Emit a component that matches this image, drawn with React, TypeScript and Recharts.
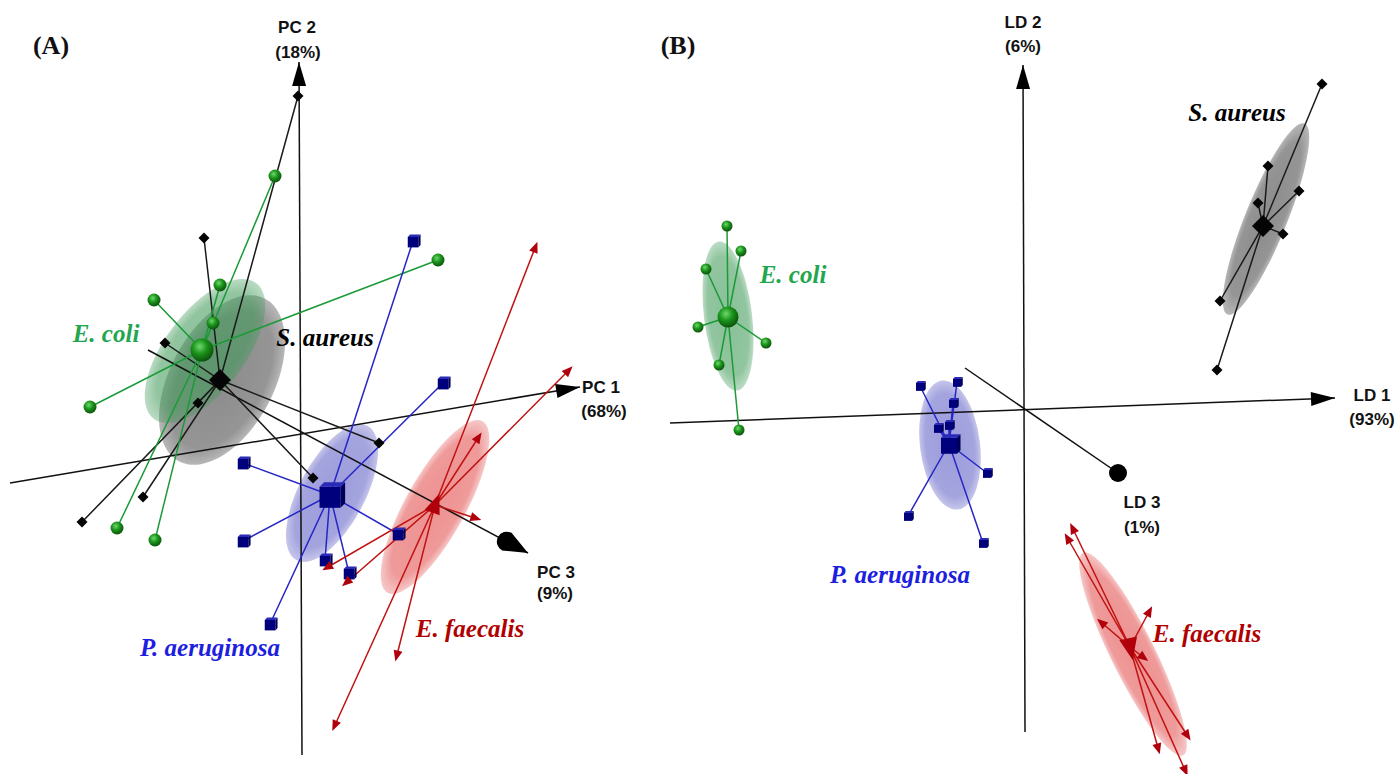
import React from 'react';
import { Scatter, ScatterChart, XAxis, YAxis } from 'recharts';

type Pt = { x: number; y: number };
type Ell = { x: number; y: number; a: number; b: number; angle: number };

const UNIT = 10; // px per score unit on both axes (keeps the projection isotropic)
const HEIGHT = 774;

// ---------- (A) PCA scores ----------
const pcaEcoliCentroid: Pt = { x: -10.0, y: 8.2 };
const pcaEcoli: Pt[] = [
  { x: -2.7, y: 25.6 }, { x: -14.8, y: 13.2 }, { x: -8.2, y: 14.7 }, { x: -8.9, y: 10.9 },
  { x: 13.6, y: 17.2 }, { x: -21.2, y: 2.5 }, { x: -18.5, y: -9.6 }, { x: -14.7, y: -10.8 },
];
const pcaSaureusCentroid: Pt = { x: -8.2, y: 5.2 };
const pcaSaureus: Pt[] = [
  { x: -0.4, y: 33.6 }, { x: -13.7, y: 8.9 }, { x: -9.8, y: 19.4 }, { x: -10.4, y: 2.9 },
  { x: 1.1, y: -4.6 }, { x: -15.9, y: -6.5 }, { x: -22.0, y: -9.0 }, { x: 7.7, y: -1.1 },
];
const pcaPaerCentroid: Pt = { x: 2.8, y: -6.3 };
const pcaPaer: Pt[] = [
  { x: 11.1, y: 19.1 }, { x: 14.1, y: 4.9 }, { x: -5.9, y: -3.1 }, { x: -5.9, y: -10.9 },
  { x: 9.6, y: -10.2 }, { x: 2.3, y: -12.8 }, { x: 4.7, y: -14.1 }, { x: -3.2, y: -19.2 },
];
const pcaEfaeCentroid: Pt = { x: 13.3, y: -7.3 };
const pcaEfae: Pt[] = [
  { x: 23.3, y: 18.4 }, { x: 26.6, y: 6.1 }, { x: 17.6, y: -0.6 }, { x: 17.3, y: -8.6 },
  { x: 2.6, y: -13.5 }, { x: 4.5, y: -15.0 }, { x: 9.5, y: -22.3 }, { x: 3.3, y: -29.3 },
];
const pcaEcoliEll: Ell = { x: -9.7, y: 8.1, a: 8.5, b: 4.0, angle: -53 };
const pcaSaureusEll: Ell = { x: -8.0, y: 5.2, a: 9.2, b: 5.2, angle: -62 };
const pcaPaerEll: Ell = { x: 3.0, y: -6.1, a: 7.6, b: 3.3, angle: -62 };
const pcaEfaeEll: Ell = { x: 13.3, y: -7.5, a: 9.8, b: 3.0, angle: -61 };

const pcaAxis1 = [{ x: -29.2, y: -5.1 }, { x: 27.8, y: 4.5 }];
const pcaAxis2 = [{ x: 0.0, y: -32.3 }, { x: -0.3, y: 37.0 }];
const pcaAxis3 = [{ x: -15.4, y: 8.2 }, { x: 22.6, y: -12.1 }];

// ---------- (B) LDA scores ----------
const ldaEcoliCentroid: Pt = { x: -29.6, y: 9.2 };
const ldaEcoli: Pt[] = [
  { x: -29.7, y: 18.3 }, { x: -28.3, y: 15.8 }, { x: -31.8, y: 14.0 }, { x: -32.6, y: 8.2 },
  { x: -25.8, y: 6.6 }, { x: -30.5, y: 4.4 }, { x: -28.5, y: -2.1 },
];
const ldaSaureusCentroid: Pt = { x: 23.9, y: 18.3 };
const ldaSaureus: Pt[] = [
  { x: 29.8, y: 32.5 }, { x: 24.4, y: 24.3 }, { x: 27.5, y: 21.8 }, { x: 23.4, y: 20.6 },
  { x: 25.9, y: 17.5 }, { x: 19.6, y: 10.8 }, { x: 19.3, y: 3.9 },
];
const ldaPaerCentroid: Pt = { x: -7.5, y: -3.5 };
const ldaPaer: Pt[] = [
  { x: -10.4, y: 2.3 }, { x: -6.7, y: 2.7 }, { x: -7.1, y: 0.6 }, { x: -8.6, y: -1.9 },
  { x: -7.5, y: -1.6 }, { x: -3.7, y: -6.4 }, { x: -11.6, y: -10.7 }, { x: -4.1, y: -13.4 },
];
const ldaEfaeCentroid: Pt = { x: 10.6, y: -23.8 };
const ldaEfae: Pt[] = [
  { x: 4.9, y: -12.0 }, { x: 4.4, y: -13.0 }, { x: 12.5, y: -20.3 }, { x: 7.8, y: -21.4 },
  { x: 11.9, y: -24.8 }, { x: 16.3, y: -32.6 }, { x: 13.4, y: -33.9 }, { x: 16.1, y: -36.1 },
];
const ldaEcoliEll: Ell = { x: -29.6, y: 9.3, a: 7.5, b: 2.4, angle: 83 };
const ldaSaureusEll: Ell = { x: 24.2, y: 19.0, a: 10.3, b: 2.1, angle: -68 };
const ldaPaerEll: Ell = { x: -7.4, y: -3.6, a: 6.5, b: 3.0, angle: 83 };
const ldaEfaeEll: Ell = { x: 10.9, y: -24.5, a: 11.3, b: 2.2, angle: 63.7 };

const ldaAxis1 = [{ x: -35.4, y: -1.4 }, { x: 31.1, y: 1.1 }];
const ldaAxis2 = [{ x: 0.1, y: -32.3 }, { x: -0.1, y: 34.4 }];
const ldaAxis3 = [{ x: -5.9, y: 4.1 }, { x: 9.4, y: -6.4 }];

// ---------- shapes ----------
const none = () => <g />;

const sphere = (r: number) => (p: any) => <circle cx={p.cx} cy={p.cy} r={r} fill="url(#sphG)" />;

const diamond = (s: number) => (p: any) => (
  <path
    d={`M${p.cx} ${p.cy - s}L${p.cx + s} ${p.cy}L${p.cx} ${p.cy + s}L${p.cx - s} ${p.cy}Z`}
    fill="#050505"
  />
);

const cube = (s: number) => (p: any) => {
  const { cx, cy } = p;
  const h = s / 2;
  const d = s * 0.22;
  const top = cy - h + d / 2;
  return (
    <g>
      <rect x={cx - h} y={top} width={s} height={s} fill="#00007c" />
      <path d={`M${cx - h} ${top}L${cx - h + d} ${top - d}L${cx + h + d} ${top - d}L${cx + h} ${top}Z`} fill="#2a2ab8" />
      <path d={`M${cx + h} ${top}L${cx + h + d} ${top - d}L${cx + h + d} ${top + s - d}L${cx + h} ${top + s}Z`} fill="#00005a" />
    </g>
  );
};

const triangle = (len: number, w: number, fixed?: number) => (p: any) => {
  const a = fixed ?? p.payload.ang;
  const ux = Math.cos(a);
  const uy = Math.sin(a);
  const tx = p.cx + ux * len * 0.6;
  const ty = p.cy + uy * len * 0.6;
  const bx = p.cx - ux * len * 0.4;
  const by = p.cy - uy * len * 0.4;
  return (
    <path
      d={`M${tx} ${ty}L${bx - uy * w / 2} ${by + ux * w / 2}L${bx + uy * w / 2} ${by - ux * w / 2}Z`}
      fill="#b0000c"
    />
  );
};

const ellipseShape = (grad: string) => (p: any) => {
  const e = p.payload as Ell;
  return (
    <ellipse
      cx={p.cx}
      cy={p.cy}
      rx={e.a * UNIT}
      ry={e.b * UNIT}
      transform={`rotate(${e.angle} ${p.cx} ${p.cy})`}
      fill={`url(#${grad})`}
    />
  );
};

// arrow heads: tip at point, pointing along payload.ang
const arrowHead = (kind: 'tri' | 'cone' | 'blob') => (p: any) => {
  const a = p.payload.ang;
  const ux = Math.cos(a);
  const uy = Math.sin(a);
  const { cx, cy } = p;
  if (kind === 'blob') return <circle cx={cx} cy={cy} r={9} fill="#000" />;
  if (kind === 'tri') {
    const L = 24;
    const w = 7;
    const bx = cx - ux * L;
    const by = cy - uy * L;
    return <path d={`M${cx} ${cy}L${bx - uy * w} ${by + ux * w}L${bx + uy * w} ${by - ux * w}Z`} fill="#000" />;
  }
  const L = 24;
  const w = 10;
  const bx = cx - ux * L;
  const by = cy - uy * L;
  return (
    <path
      d={`M${cx} ${cy}L${bx - uy * w} ${by + ux * w}A${w} ${w} 0 0 1 ${bx + uy * w} ${by - ux * w}Z`}
      fill="#000"
    />
  );
};

const STYLE = {
  ecoli: { spoke: '#1c9a38', ell: 'ellG', label: '#22a64e' },
  saureus: { spoke: '#1a1a1a', ell: 'ellK', label: '#000' },
  paer: { spoke: '#2626c6', ell: 'ellB', label: '#1e1ee0' },
  efae: { spoke: '#c11212', ell: 'ellR', label: '#b00000' },
};

type Group = {
  key: string;
  centroid: Pt;
  points: Pt[];
  ellipse: Ell;
  style: { spoke: string; ell: string };
  marker: (p: any) => React.ReactElement;
  centroidMarker: (p: any) => React.ReactElement;
};

const withAngle = (c: Pt, pts: Pt[]) =>
  pts.map((p) => ({ ...p, ang: Math.atan2(-(p.y - c.y), p.x - c.x) }));

const axisTip = (seg: Pt[]) => [
  { ...seg[1], ang: Math.atan2(-(seg[1].y - seg[0].y), seg[1].x - seg[0].x) },
];

const pcaGroups: Group[] = [
  { key: 'sa', centroid: pcaSaureusCentroid, points: pcaSaureus, ellipse: pcaSaureusEll, style: STYLE.saureus, marker: diamond(5.5), centroidMarker: diamond(11) },
  { key: 'ec', centroid: pcaEcoliCentroid, points: pcaEcoli, ellipse: pcaEcoliEll, style: STYLE.ecoli, marker: sphere(6.5), centroidMarker: sphere(11.5) },
  { key: 'pa', centroid: pcaPaerCentroid, points: pcaPaer, ellipse: pcaPaerEll, style: STYLE.paer, marker: cube(10.5), centroidMarker: cube(21) },
  { key: 'ef', centroid: pcaEfaeCentroid, points: pcaEfae, ellipse: pcaEfaeEll, style: STYLE.efae, marker: triangle(11, 9), centroidMarker: triangle(20, 16, -Math.PI / 2.6) },
];

const ldaGroups: Group[] = [
  { key: 'sa', centroid: ldaSaureusCentroid, points: ldaSaureus, ellipse: ldaSaureusEll, style: STYLE.saureus, marker: diamond(5.5), centroidMarker: diamond(11) },
  { key: 'ec', centroid: ldaEcoliCentroid, points: ldaEcoli, ellipse: ldaEcoliEll, style: STYLE.ecoli, marker: sphere(5.5), centroidMarker: sphere(10.5) },
  { key: 'pa', centroid: ldaPaerCentroid, points: ldaPaer, ellipse: ldaPaerEll, style: STYLE.paer, marker: cube(8), centroidMarker: cube(16) },
  { key: 'ef', centroid: ldaEfaeCentroid, points: ldaEfae, ellipse: ldaEfaeEll, style: STYLE.efae, marker: triangle(11, 9), centroidMarker: triangle(22, 18, Math.PI / 2.3) },
];

type AxisDef = { name: string; seg: Pt[]; head: 'tri' | 'cone' | 'blob' };

const pcaAxes: AxisDef[] = [
  { name: 'PC1', seg: pcaAxis1, head: 'tri' },
  { name: 'PC2', seg: pcaAxis2, head: 'tri' },
  { name: 'PC3', seg: pcaAxis3, head: 'cone' },
];
const ldaAxes: AxisDef[] = [
  { name: 'LD1', seg: ldaAxis1, head: 'tri' },
  { name: 'LD2', seg: ldaAxis2, head: 'tri' },
  { name: 'LD3', seg: ldaAxis3, head: 'blob' },
];

interface PanelProps {
  left: number;
  width: number;
  originX: number; // px from panel left
  originY: number; // px from top
  groups: Group[];
  axes: AxisDef[];
}

const Panel = ({ left, width, originX, originY, groups, axes }: PanelProps) => (
  <div style={{ position: 'absolute', left, top: 0 }}>
    <ScatterChart width={width} height={HEIGHT} margin={{ top: 0, right: 0, bottom: 0, left: 0 }}>
      <XAxis type="number" dataKey="x" domain={[-originX / UNIT, (width - originX) / UNIT]} hide allowDataOverflow />
      <YAxis type="number" dataKey="y" domain={[(originY - HEIGHT) / UNIT, originY / UNIT]} hide allowDataOverflow />
      {groups.map((g) => (
        <Scatter key={`ell-${g.key}`} data={[g.ellipse]} shape={ellipseShape(g.style.ell)} isAnimationActive={false} />
      ))}
      {axes.map((a) => (
        <Scatter
          key={`ax-${a.name}`}
          data={a.seg}
          line={{ stroke: '#111', strokeWidth: 1.5, fill: 'none' }}
          shape={none}
          isAnimationActive={false}
        />
      ))}
      {groups.map((g) => (
        <Scatter
          key={`sp-${g.key}`}
          data={g.points.flatMap((p) => [g.centroid, p])}
          line={{ stroke: g.style.spoke, strokeWidth: 1.5, fill: 'none' }}
          shape={none}
          isAnimationActive={false}
        />
      ))}
      {groups.map((g) => (
        <Scatter key={`pt-${g.key}`} data={withAngle(g.centroid, g.points)} shape={g.marker} isAnimationActive={false} />
      ))}
      {groups.map((g) => (
        <Scatter key={`c-${g.key}`} data={[g.centroid]} shape={g.centroidMarker} isAnimationActive={false} />
      ))}
      {axes.map((a) => (
        <Scatter key={`hd-${a.name}`} data={axisTip(a.seg)} shape={arrowHead(a.head)} isAnimationActive={false} />
      ))}
    </ScatterChart>
  </div>
);

const sans: React.CSSProperties = { fontFamily: '"Liberation Sans", Arial, sans-serif', fontWeight: 700, fontSize: 17, color: '#111' };
const species: React.CSSProperties = { fontFamily: '"Liberation Serif", "Times New Roman", serif', fontWeight: 700, fontStyle: 'italic', fontSize: 25 };
const letter: React.CSSProperties = { fontFamily: '"Liberation Serif", "Times New Roman", serif', fontWeight: 700, fontSize: 26, color: '#111' };

const Label = ({ x, y, style, children }: { x: number; y: number; style: React.CSSProperties; children: React.ReactNode }) => (
  <div
    style={{
      position: 'absolute',
      left: x,
      top: y,
      transform: 'translate(-50%, -50%)',
      whiteSpace: 'nowrap',
      lineHeight: 1,
      ...style,
    }}
  >
    {children}
  </div>
);

const ellStops = (color: string, o1: number, o2: number) => (
  <>
    <stop offset="0" stopColor={color} stopOpacity={o1} />
    <stop offset="0.8" stopColor={color} stopOpacity={o1 * 0.92} />
    <stop offset="1" stopColor={color} stopOpacity={o2} />
  </>
);

export default function App() {
  return (
    <div style={{ position: 'absolute', left: 0, top: 0, width: 1396, height: HEIGHT, background: '#fff', overflow: 'hidden' }}>
      <svg width={0} height={0} style={{ position: 'absolute' }}>
        <defs>
          <radialGradient id="sphG" cx="0.4" cy="0.35" r="0.7">
            <stop offset="0" stopColor="#6fd86f" />
            <stop offset="0.45" stopColor="#1b951b" />
            <stop offset="1" stopColor="#0a4a0a" />
          </radialGradient>
          <radialGradient id="ellG">{ellStops('#3f9a58', 0.62, 0.35)}</radialGradient>
          <radialGradient id="ellK">{ellStops('#5f5f5f', 0.72, 0.45)}</radialGradient>
          <radialGradient id="ellB">{ellStops('#5a5ac4', 0.6, 0.35)}</radialGradient>
          <radialGradient id="ellR">{ellStops('#e24848', 0.6, 0.3)}</radialGradient>
        </defs>
      </svg>

      <Panel left={0} width={698} originX={302} originY={432} groups={pcaGroups} axes={pcaAxes} />
      <Panel left={640} width={756} originX={384} originY={409} groups={ldaGroups} axes={ldaAxes} />

      {/* panel A text */}
      <Label x={51} y={46} style={letter}>(A)</Label>
      <Label x={297} y={27} style={sans}>PC 2</Label>
      <Label x={298} y={52} style={sans}>(18%)</Label>
      <Label x={601} y={387} style={sans}>PC 1</Label>
      <Label x={604} y={411} style={sans}>(68%)</Label>
      <Label x={556} y={572} style={sans}>PC 3</Label>
      <Label x={555} y={593} style={sans}>(9%)</Label>
      <Label x={106} y={333} style={{ ...species, color: STYLE.ecoli.label }}>E. coli</Label>
      <Label x={325} y={337} style={{ ...species, color: STYLE.saureus.label }}>S. aureus</Label>
      <Label x={210} y={647} style={{ ...species, color: STYLE.paer.label }}>P. aeruginosa</Label>
      <Label x={470} y={628} style={{ ...species, color: STYLE.efae.label }}>E. faecalis</Label>

      {/* panel B text */}
      <Label x={678} y={46} style={letter}>(B)</Label>
      <Label x={1023} y={22} style={sans}>LD 2</Label>
      <Label x={1023} y={46} style={sans}>(6%)</Label>
      <Label x={1372} y={395} style={sans}>LD 1</Label>
      <Label x={1372} y={419} style={sans}>(93%)</Label>
      <Label x={1142} y={502} style={sans}>LD 3</Label>
      <Label x={1142} y={527} style={sans}>(1%)</Label>
      <Label x={793} y={274} style={{ ...species, color: STYLE.ecoli.label }}>E. coli</Label>
      <Label x={1237} y={112} style={{ ...species, color: STYLE.saureus.label }}>S. aureus</Label>
      <Label x={900} y={574} style={{ ...species, color: STYLE.paer.label }}>P. aeruginosa</Label>
      <Label x={1207} y={633} style={{ ...species, color: STYLE.efae.label }}>E. faecalis</Label>
    </div>
  );
}
